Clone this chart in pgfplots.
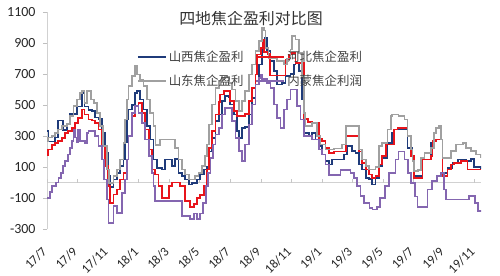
\documentclass[border=0pt]{standalone}
\usepackage{pgfplots}
\pgfplotsset{compat=1.18}
\usepackage{fontspec}
\setmainfont{Carlito}
\newfontfamily\cjk{Noto Sans CJK SC}
\definecolor{sx}{HTML}{1F3B7A}
\definecolor{hb}{HTML}{E8141B}
\definecolor{sd}{HTML}{A0A0A0}
\definecolor{nm}{HTML}{8466B0}
\begin{document}
\begin{tikzpicture}
\begin{axis}[
  scale only axis, width=434bp, height=217bp,
  xmin=0, xmax=28.4, ymin=-300, ymax=1100,
  axis y line*=left, axis x line*=bottom,
  x axis line style={draw=none},
  y axis line style={draw=black!18, line width=0.8bp},
  xtick={0,2,...,28},
  xticklabels={17/7,17/9,17/11,18/1,18/3,18/5,18/7,18/9,18/11,19/1,19/3,19/5,19/7,19/9,19/11},
  xtick style={draw=none},
  ytick={-300,-100,100,300,500,700,900,1100},
  ytick style={draw=black!25, line width=0.8bp},
  tick align=outside, major tick length=4bp,
  /pgf/number format/assume math mode=true,
  /pgf/number format/1000 sep={},
  yticklabel style={font=\fontsize{14}{14}\selectfont, text=black!85, xshift=-4bp},
  xticklabel style={font=\fontsize{13}{13}\selectfont, text=black!85, yshift=-14bp, xshift=0bp, rotate=45, anchor=east},
  const plot,
  every axis plot/.append style={line width=1.8bp, line join=miter},
  legend columns=2,
  legend style={draw=none, fill=none, at={(rel axis cs:0.2,0.84)}, anchor=north west,
    font=\cjk\fontsize{12.5}{12.5}\selectfont, text=black!75, row sep=8bp,
    /tikz/every even column/.append style={column sep=10bp}},
  legend cell align=left,
  legend image code/.code={\draw[#1, line width=1.8bp] (0bp,0bp) -- (28bp,0bp);},
]
\draw[black!18, line width=0.9bp] (axis cs:0,0) -- (axis cs:28.4,0);
\pgfplotsinvokeforeach{0,2,...,28}{\draw[black!22, line width=0.8bp] (axis cs:#1,0) -- (axis cs:#1,20);}
% Shanxi
\addplot[sx] coordinates {(0,330)(0.1,265)(0.5,290)(0.74,400)(1.07,340)(1.29,380)(1.51,440)(1.95,490)(2.27,580)(2.45,490)(2.71,470)(2.93,460)(3.15,420)(3.37,410)(3.58,320)(3.8,190)(4.02,40)(4.13,-30)(4.35,20)(4.57,60)(4.79,105)(5.0,150)(5.12,260)(5.22,406)(5.33,471)(5.55,500)(5.77,579)(5.88,589)(6.1,535)(6.32,471)(6.54,363)(6.75,277)(6.97,148)(7.19,95)(7.52,84)(7.74,148)(8.18,105)(8.39,150)(8.61,62)(8.83,40)(9.05,20)(9.27,-13)(9.49,-5)(9.82,19)(10.03,52)(10.25,84)(10.47,100)(10.58,200)(10.8,288)(11.02,395)(11.23,439)(11.45,525)(11.67,557)(11.89,550)(12.0,503)(12.22,439)(12.44,331)(12.55,288)(12.76,353)(12.98,360)(13.2,439)(13.42,546)(13.64,654)(13.86,761)(14.08,869)(14.25,934)(14.4,847)(14.62,783)(14.84,718)(15.06,632)(15.39,640)(15.61,686)(15.93,700)(16.15,761)(16.26,772)(16.5,720)(16.7,535)(16.85,320)(17.13,299)(17.35,320)(17.57,277)(17.79,234)(18.01,181)(18.23,138)(18.44,116)(18.66,148)(19.43,181)(19.65,234)(19.97,202)(20.19,190)(20.41,116)(20.63,84)(20.85,30)(21.07,25)(21.29,-13)(21.5,30)(21.72,105)(21.94,159)(22.28,256)(22.6,320)(22.71,342)(23.59,224)(23.92,148)(24.03,41)(24.57,148)(25.12,256)(25.34,277)(25.88,62)(26.21,95)(26.54,127)(26.87,148)(27.41,140)(27.74,150)(27.96,100)(28.4,84)};
\addlegendentry{山西焦企盈利}
% Hebei
\addplot[hb] coordinates {(0,180)(0.09,213)(0.31,240)(0.52,256)(0.74,270)(0.96,288)(1.18,320)(1.4,330)(1.62,353)(1.84,385)(2.05,417)(2.27,471)(2.45,439)(2.71,406)(2.93,400)(3.15,385)(3.37,342)(3.58,234)(3.8,105)(3.98,-24)(4.13,-131)(4.35,-77)(4.57,-45)(4.79,19)(5.0,62)(5.22,148)(5.33,299)(5.55,428)(5.77,492)(5.99,514)(6.21,450)(6.43,342)(6.65,213)(6.86,84)(7.08,52)(7.3,-24)(7.52,-100)(8.0,-20)(8.2,0)(8.7,-20)(9.05,-120)(9.38,-160)(9.6,-140)(9.82,-100)(10.03,-80)(10.25,-24)(10.47,84)(10.58,224)(10.8,331)(11.02,439)(11.23,520)(11.34,568)(11.56,589)(12.0,525)(12.22,460)(12.44,428)(12.98,440)(13.2,525)(13.42,611)(13.64,697)(13.75,826)(14.0,870)(14.1,920)(14.2,840)(14.45,830)(14.6,690)(15.5,690)(15.61,794)(15.83,826)(16.04,837)(16.26,772)(16.8,410)(17.1,390)(17.35,385)(17.79,280)(18.0,270)(18.23,224)(18.44,191)(18.77,200)(19.54,300)(20.41,200)(20.63,127)(20.85,84)(21.07,52)(21.29,30)(21.5,40)(21.72,116)(21.94,170)(22.17,245)(22.71,342)(22.93,353)(23.59,299)(23.81,170)(24.03,30)(24.57,148)(25.12,170)(25.23,266)(25.45,277)(25.88,41)(26.21,84)(26.43,116)(26.65,127)(27.09,138)(27.52,84)(28.4,84)};
\addlegendentry{河北焦企盈利}
% Shandong
\addplot[sd] coordinates {(0,270)(0.09,290)(0.31,299)(0.52,320)(0.74,342)(0.96,363)(1.29,380)(1.51,428)(1.73,492)(1.95,535)(2.16,579)(2.3,589)(2.45,514)(2.6,589)(2.9,535)(3.05,514)(3.26,450)(3.48,363)(3.69,234)(3.91,84)(4.06,-2)(4.35,41)(4.57,84)(4.79,148)(5.0,256)(5.11,406)(5.22,535)(5.33,621)(5.55,686)(5.77,750)(5.88,697)(6.1,665)(6.32,621)(6.54,535)(6.75,450)(6.97,363)(7.1,240)(7.4,277)(8.2,277)(8.39,224)(8.61,148)(8.83,84)(9.05,52)(9.27,19)(9.7,41)(9.92,62)(10.14,105)(10.36,170)(10.47,245)(10.58,374)(10.8,503)(11.02,611)(11.23,654)(11.45,675)(11.67,680)(11.89,640)(12.11,600)(12.33,525)(12.55,460)(12.76,525)(12.98,589)(13.2,697)(13.42,761)(13.64,847)(13.86,912)(14.08,998)(14.2,980)(14.3,869)(14.5,804)(15.06,783)(15.5,761)(15.72,800)(15.94,858)(16.04,944)(16.26,923)(16.48,837)(16.7,686)(16.8,450)(16.9,363)(17.36,385)(17.69,299)(17.9,245)(18.23,213)(18.78,220)(19.3,245)(19.54,363)(20.41,213)(20.63,148)(20.85,105)(21.07,84)(21.5,100)(21.72,234)(21.94,256)(22.28,342)(22.5,428)(22.6,439)(23.0,430)(23.4,406)(23.59,299)(23.81,213)(23.92,138)(24.03,73)(24.3,80)(24.46,159)(24.7,191)(25.12,224)(25.34,320)(25.45,353)(25.67,363)(25.78,277)(25.88,159)(26.43,202)(26.76,245)(27.2,256)(27.41,224)(27.74,202)(28.05,181)(28.4,159)};
\addlegendentry{山东焦企盈利}
% Inner Mongolia
\addplot[nm] coordinates {(0,-100)(0.2,-60)(0.35,-24)(0.6,0)(0.75,30)(0.9,62)(1.05,105)(1.2,138)(1.4,181)(1.5,224)(1.62,266)(1.73,342)(1.84,290)(1.95,260)(2.05,342)(2.16,266)(2.5,256)(2.6,320)(2.71,331)(3.15,299)(3.37,234)(3.58,148)(3.75,19)(3.91,-110)(4.02,-260)(4.35,-153)(4.57,-196)(4.9,-66)(5.11,19)(5.22,148)(5.33,300)(5.55,450)(5.77,492)(5.99,450)(6.21,385)(6.43,277)(6.65,170)(6.86,62)(6.97,-24)(7.08,-120)(8.83,-217)(9.38,-238)(9.6,-200)(9.8,-238)(10.03,-200)(10.2,-130)(10.4,-24)(10.55,62)(10.7,159)(10.85,245)(11.02,310)(11.23,353)(11.45,439)(11.67,482)(12.11,395)(12.33,288)(12.55,202)(12.76,138)(12.98,245)(13.2,374)(13.42,503)(13.64,632)(13.86,675)(13.97,697)(14.08,670)(14.4,643)(14.62,611)(14.84,503)(15.06,417)(15.28,353)(15.5,471)(15.72,535)(15.94,600)(16.37,492)(16.59,406)(16.8,299)(17.35,277)(17.79,213)(18.01,181)(18.23,116)(18.44,50)(19.2,80)(19.86,60)(20.08,30)(20.3,-24)(20.52,-88)(20.74,-131)(21.1,-163)(21.3,-174)(21.6,-160)(21.8,-100)(22.1,-24)(22.4,62)(22.8,148)(23.0,200)(23.4,148)(23.6,62)(23.8,-2)(24.1,-90)(24.25,-160)(24.9,-45)(25.2,8)(25.5,41)(25.8,62)(26.0,-45)(26.1,-110)(27.6,-88)(28.0,-131)(28.2,-185)(28.4,-175)};
\addlegendentry{内蒙焦企利润}
\node[font=\cjk\fontsize{16}{16}\selectfont, text=black!80] at (rel axis cs:0.47,0.972) {四地焦企盈利对比图};
\node[font=\cjk\fontsize{12}{12}\selectfont, text=black!85, anchor=east, inner sep=0pt] at (rel axis cs:-0.005,0.935) {元/吨};
\coordinate (O) at (rel axis cs:0,0);
\end{axis}
\pgfresetboundingbox
\path (O) ++(-47bp,-47bp) rectangle ++(500bp,276bp);
\end{tikzpicture}
\end{document}
